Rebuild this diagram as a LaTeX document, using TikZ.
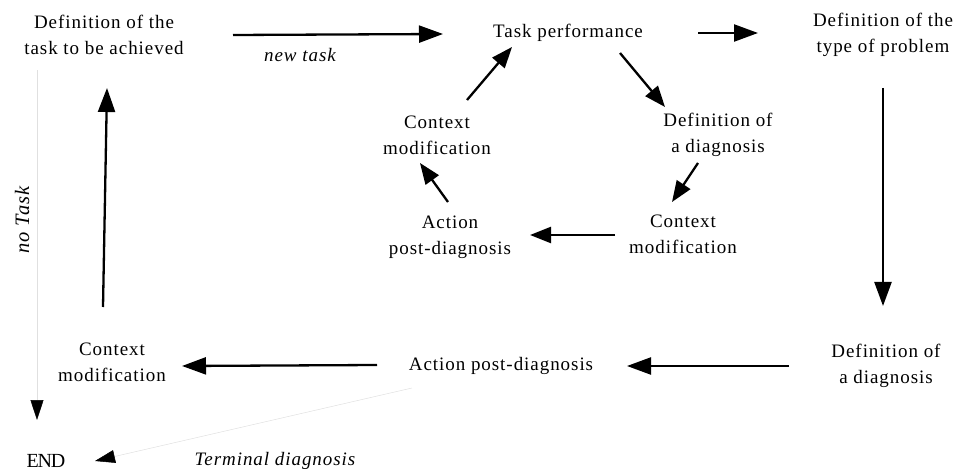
\documentclass[tikz,border=0pt]{standalone}
\usepackage{fontspec}
\setmainfont{Liberation Serif}[LetterSpace=5]
\newfontfamily\endfont{Liberation Serif}[LetterSpace=-6]
\usetikzlibrary{arrows.meta,calc}
\tikzset{
  lbl/.style={align=center,inner sep=0pt,font=\fontsize{19}{26}\selectfont},
  itl/.style={inner sep=0pt,font=\fontsize{19}{26}\selectfont\itshape},
  arr/.style={line width=2.3pt,-{Triangle[length=24pt,width=17pt]}},
  iarr/.style={line width=2.3pt,-{Triangle[length=21pt,width=16pt]}},
  light/.style={line width=0.5pt,draw=black!12,-{Triangle[length=20pt,width=13pt,color=black]}},
}
\begin{document}
\begin{tikzpicture}[x=1pt,y=-1pt]
\useasboundingbox (0,0) rectangle (959,473);
% nodes
\node[lbl] (dt) at (104,35) {Definition of the\\task to be achieved};
\node[lbl] (tp) at (568,33) {Task performance};
\node[lbl] (dp) at (883,35) {Definition of the\\type of problem};
\node[lbl] (dd) at (886,366) {Definition of\\a diagnosis};
\node[lbl] (ap) at (501,366) {Action post-diagnosis};
\node[lbl] (cm) at (112,362) {Context\\modification};
\node[lbl] (cmi) at (437,135) {Context\\modification};
\node[lbl] (ddi) at (718,135) {Definition of\\a diagnosis};
\node[lbl] (cmi2) at (683,234) {Context\\modification};
\node[lbl] (api) at (450,237) {Action\\post-diagnosis};
\node[inner sep=0pt,font=\endfont\fontsize{20}{24}\selectfont] (end) at (46,461) {END};
\node[itl] (newtask) at (300,55) {new task};
\node[inner sep=0pt,rotate=90,font=\fontsize{20.5}{24}\selectfont\itshape] (notask) at (22,220) {no Task};
\node[itl] (term) at (275,461) {Terminal diagnosis};
% outer loop
\draw[arr] ($(dt)+(129,0)$) -- ($(tp)+(-125,1)$);
\draw[arr] ($(tp)+(130,0)$) -- ($(dp)+(-125,-2)$);
\draw[arr] ($(dp)+(0,53)$) -- ($(dd)+(-3,-60)$);
\draw[arr] ($(dd)+(-97,0)$) -- ($(ap)+(126,0)$);
\draw[arr] ($(ap)+(-124,-1)$) -- ($(cm)+(70,4)$);
\draw[arr] ($(cm)+(-9,-55)$) -- ($(dt)+(3,53)$);
% light connectors
\draw[light] ($(dt)+(-67,35)$) -- ($(end)+(-9,-41)$);
\draw[light] ($(ap)+(-89,22)$) -- ($(end)+(49,0)$);
% inner cycle
\draw[iarr] ($(cmi)+(30,-35)$) -- ($(tp)+(-56,14)$);
\draw[iarr] ($(tp)+(52,20)$) -- ($(ddi)+(-53,-28)$);
\draw[iarr] ($(ddi)+(-20,28)$) -- ($(cmi2)+(-11,-32)$);
\draw[iarr] ($(cmi2)+(-68,1)$) -- ($(api)+(80,-2)$);
\draw[iarr] ($(api)+(-2,-35)$) -- ($(cmi)+(-17,28)$);
\end{tikzpicture}
\end{document}
